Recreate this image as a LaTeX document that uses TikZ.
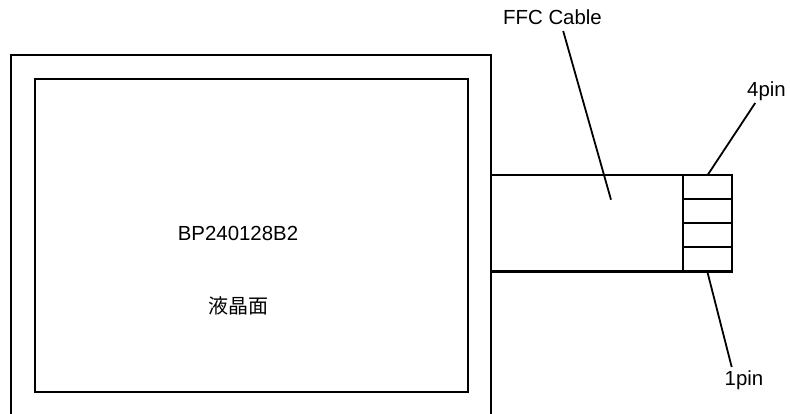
\documentclass[tikz,border=0pt]{standalone}
\usepackage{fontspec}
\setmainfont{Liberation Sans}
\newfontfamily\cjk{Noto Sans CJK JP}
\tikzset{
  ln/.style={draw=black,line width=2pt},
  lead/.style={draw=black,line width=1.8pt},
  lbl/.style={inner sep=0pt,font=\fontsize{20.4}{24}\selectfont,text=black}
}
\begin{document}
\begin{tikzpicture}[x=1pt,y=-1pt]
\useasboundingbox (0,0) rectangle (790,414);
\fill[white] (0,0) rectangle (790,414);
% LCD module (frame runs off the bottom)
\coordinate (fbl) at (11,414);
\coordinate (ftl) at (11,55.5);
\coordinate (ftr) at (491,55.5);
\coordinate (fbr) at (491,414);
\draw[ln] (fbl) -- (ftl) -- (ftr) -- (fbr);
\node[ln,rectangle,minimum width=432.5pt,minimum height=312.5pt,inner sep=0pt,outer sep=0pt,anchor=north west] (lcd) at (35,79.5) {};
% cable
\coordinate (ct) at (491,175.5);
\coordinate (cb) at (491,271.5);
\node[ln,rectangle,minimum width=48.5pt,minimum height=96pt,inner sep=0pt,outer sep=0pt,anchor=north west] (conn) at (683,175.5) {};
\draw[ln] (ct) -- (conn.north west);
\draw[ln] (cb) -- (conn.south west);
\draw[ln] (conn.west |- 0,199.5) -- (conn.east |- 0,199.5);
\draw[ln] (conn.west |- 0,223.5) -- (conn.east |- 0,223.5);
\draw[ln] (conn.west |- 0,247.5) -- (conn.east |- 0,247.5);
% labels
\node[lbl,anchor=base] (part) at (238,241) {BP240128B2};
\node[lbl,font=\fontsize{20}{24}\selectfont\cjk] (face) at (238.5,306) {液晶面};
\node[lbl,anchor=base] (ffc) at (552.5,24.5) {FFC Cable};
\node[lbl,anchor=base] (p4) at (766.5,97) {4pin};
\node[lbl,anchor=base] (p1) at (744,385) {1pin};
% leaders
\coordinate (ffcs) at (563.2,31);
\coordinate (ffcend) at (611,199.7);
\coordinate (p4s) at (755.2,103);
\coordinate (p4end) at (707.3,175.5);
\coordinate (p1s) at (731.7,367);
\coordinate (p1end) at (707.3,271.5);
\draw[lead] (ffcs) -- (ffcend);
\draw[lead] (p4s) -- (p4end);
\draw[lead] (p1s) -- (p1end);
\end{tikzpicture}
\end{document}
